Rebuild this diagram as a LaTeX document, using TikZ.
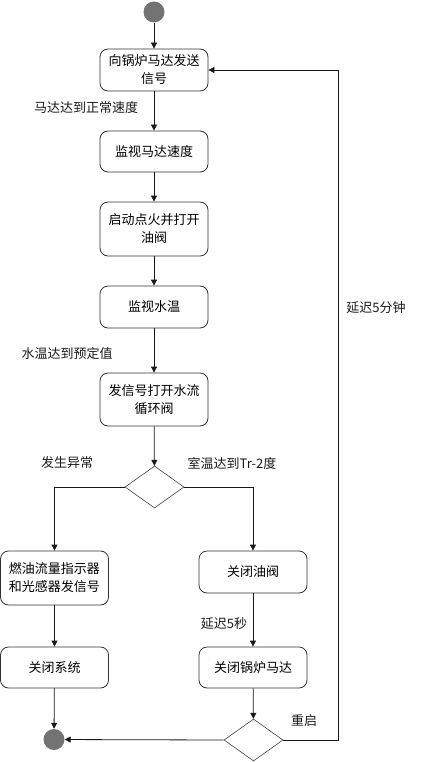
\documentclass[tikz,border=0pt]{standalone}
\usepackage{fontspec}
\setmainfont{Noto Sans CJK SC}
\usetikzlibrary{arrows.meta,shapes.geometric}
\begin{document}
\begin{tikzpicture}[x=1pt,y=-1pt,
  font=\fontsize{13}{18}\selectfont,
  actbox/.style={draw=black!80,rounded corners=8pt,minimum width=108pt,align=center,inner sep=0pt,line width=0.8pt},
  dec/.style={draw=black!75,diamond,aspect=1.4,minimum width=59pt,minimum height=42pt,inner sep=0pt,line width=0.6pt},
  dot/.style={circle,fill=black!55,minimum size=21pt,inner sep=0pt},
  flow/.style={draw=black!90,line width=0.8pt,-{Triangle[length=6pt,width=6pt]}},
  lbl/.style={text=black!90,inner sep=0pt}]
\useasboundingbox (0,0) rectangle (438,762);
\node[dot] (start) at (154,12) {};
\node[actbox,minimum height=42pt] (b1) at (154,70) {向锅炉马达发送\\信号};
\node[actbox,minimum height=41pt] (b2) at (154,151.5) {监视马达速度};
\node[actbox,minimum height=54pt] (b3) at (154,229) {启动点火并打开\\油阀};
\node[actbox,minimum height=42pt] (b4) at (154,307) {监视水温};
\node[actbox,minimum height=53pt] (b5) at (154,399.5) {发信号打开水流\\循环阀};
\node[dec] (d1) at (154.5,487) {};
\node[actbox,minimum height=54pt] (b6) at (54.5,578) {燃油流量指示器\\和光感器发信号};
\node[actbox,minimum height=42pt] (b7) at (253,572) {关闭油阀};
\node[actbox,minimum height=41pt] (b8) at (54.5,667.5) {关闭系统};
\node[actbox,minimum height=41pt] (b9) at (253,667.5) {关闭锅炉马达};
\node[dec] (d2) at (253.5,740) {};
\node[dot] (end) at (54,739.5) {};
\coordinate (c1) at (54.5,487);
\coordinate (c2) at (253,487);
\coordinate (c3) at (338,740);
\coordinate (c4) at (338,70);

\draw[flow] (start) -- (b1);
\draw[flow] (b1) -- (b2);
\draw[flow] (b2) -- (b3);
\draw[flow] (b3) -- (b4);
\draw[flow] (b4) -- (b5);
\draw[flow] (b5) -- (d1);
\draw[flow] (d1.west) -- (c1) -- (b6);
\draw[flow] (d1.east) -- (c2) -- (b7);
\draw[flow] (b6) -- (b8);
\draw[flow] (b7) -- (b9);
\draw[flow] (b8) -- (end);
\draw[flow] (b9) -- (d2);
\draw[flow] (d2.west) -- (end);
\draw[flow] (d2.east) -- (c3) -- (c4) -- (b1.east);

\node[lbl] (l1) at (86,108) {马达达到正常速度};
\node[lbl] (l2) at (67,354) {水温达到预定值};
\node[lbl] (l3) at (67,463) {发生异常};
\node[lbl] (l4) at (232,463) {室温达到Tr-2度};
\node[lbl] (l5) at (224,624) {延迟5秒};
\node[lbl] (l6) at (304,721) {重启};
\node[lbl] (l7) at (376,308) {延迟5分钟};
\end{tikzpicture}
\end{document}
